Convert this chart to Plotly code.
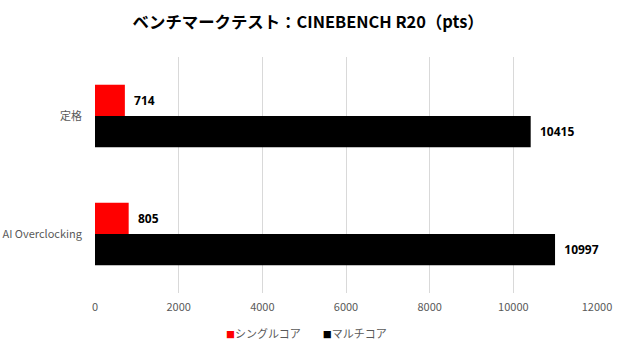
import plotly.graph_objects as go

categories = ["定格", "AI Overclocking"]
single_core = [714, 805]
multi_core = [10415, 10997]
series_names = ["シングルコア", "マルチコア"]
series_colors = ["#ff0000", "#000000"]
x_ticks = [0, 2000, 4000, 6000, 8000, 10000, 12000]

font_family = "Noto Sans CJK JP, Noto Sans, sans-serif"
label_font = dict(size=12, color="#000000", family="Open Sans, Noto Sans CJK JP", weight="bold")

fig = go.Figure()
for name, vals, col in [(series_names[0], single_core, series_colors[0]),
                        (series_names[1], multi_core, series_colors[1])]:
    fig.add_trace(go.Bar(
        y=categories, x=vals, name=name, orientation="h",
        marker=dict(color=col, line=dict(width=0)),
        text=["  " + str(v) for v in vals], textposition="outside",
        textfont=label_font, cliponaxis=False, showlegend=False,
    ))

legend_text = "　　".join(
    f"<span style='color:{c};font-size:9px'>■</span>{n}" for n, c in zip(series_names, series_colors)
)
fig.add_annotation(
    text=legend_text, xref="paper", yref="paper", x=0.422, y=-0.17,
    xanchor="center", yanchor="middle", showarrow=False,
    font=dict(size=11, color="#595959", family=font_family),
)

fig.update_layout(
    width=620, height=350,
    margin=dict(l=95, r=23, t=57, b=57, autoexpand=False),
    paper_bgcolor="white", plot_bgcolor="white",
    barmode="group", bargap=0.47, bargroupgap=0,
    title=dict(text="<b>ベンチマークテスト：CINEBENCH R20（pts）</b>",
               x=0.497, xanchor="center", y=0.935, yanchor="middle",
               font=dict(size=16.4, color="#000000", family=font_family)),
    font=dict(family=font_family, color="#595959", size=11),
    xaxis=dict(range=[0, 12000], tickvals=x_ticks, ticktext=[str(v) for v in x_ticks],
               showgrid=True, gridcolor="#d9d9d9", gridwidth=1, zeroline=False,
               showline=False, ticks="", ticklabelstandoff=6,
               tickfont=dict(size=11, color="#595959")),
    yaxis=dict(autorange="reversed", showgrid=False, zeroline=False, showline=False,
               ticks="", ticklabelstandoff=12, tickfont=dict(size=11, color="#595959")),
    showlegend=False,
)

fig.write_html("out.html")
